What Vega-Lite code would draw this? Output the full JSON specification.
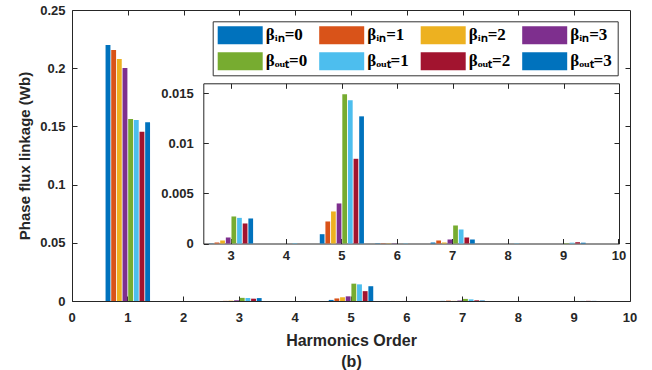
{
  "$schema": "https://vega.github.io/schema/vega-lite/v6.json",
  "width": 558,
  "height": 291,
  "autosize": "none",
  "padding": {"left": 72, "top": 10, "right": 22, "bottom": 69},
  "background": "white",
  "config": {
    "view": {"stroke": "#262626", "strokeWidth": 1},
    "axis": {
      "grid": false,
      "domain": false,
      "domainColor": "#262626",
      "domainWidth": 1,
      "tickColor": "#262626",
      "tickSize": -5,
      "tickWidth": 1,
      "labelFont": "Liberation Sans",
      "labelFontWeight": "bold",
      "labelFontSize": 13,
      "labelColor": "#262626",
      "labelAngle": 0,
      "titleFont": "Liberation Sans",
      "titleFontWeight": "bold",
      "titleFontSize": 16,
      "titleColor": "#262626"
    }
  },
  "datasets": {
    "flux": [
      {"h": 1, "s": "\u03b2\u1d62\u2099=0", "v": 0.2199},
      {"h": 1, "s": "\u03b2\u1d62\u2099=1", "v": 0.2156},
      {"h": 1, "s": "\u03b2\u1d62\u2099=2", "v": 0.2080},
      {"h": 1, "s": "\u03b2\u1d62\u2099=3", "v": 0.2002},
      {"h": 1, "s": "\u03b2\u2092\u1d64\u209c=0", "v": 0.1564},
      {"h": 1, "s": "\u03b2\u2092\u1d64\u209c=1", "v": 0.1555},
      {"h": 1, "s": "\u03b2\u2092\u1d64\u209c=2", "v": 0.1455},
      {"h": 1, "s": "\u03b2\u2092\u1d64\u209c=3", "v": 0.1535},
      {"h": 3, "s": "\u03b2\u1d62\u2099=0", "v": 0.00002},
      {"h": 3, "s": "\u03b2\u1d62\u2099=1", "v": 0.0001},
      {"h": 3, "s": "\u03b2\u1d62\u2099=2", "v": 0.0003},
      {"h": 3, "s": "\u03b2\u1d62\u2099=3", "v": 0.0006},
      {"h": 3, "s": "\u03b2\u2092\u1d64\u209c=0", "v": 0.0027},
      {"h": 3, "s": "\u03b2\u2092\u1d64\u209c=1", "v": 0.00256},
      {"h": 3, "s": "\u03b2\u2092\u1d64\u209c=2", "v": 0.0020},
      {"h": 3, "s": "\u03b2\u2092\u1d64\u209c=3", "v": 0.0025},
      {"h": 4, "s": "\u03b2\u2092\u1d64\u209c=1", "v": 0.00004},
      {"h": 5, "s": "\u03b2\u1d62\u2099=0", "v": 0.00093},
      {"h": 5, "s": "\u03b2\u1d62\u2099=1", "v": 0.0022},
      {"h": 5, "s": "\u03b2\u1d62\u2099=2", "v": 0.0032},
      {"h": 5, "s": "\u03b2\u1d62\u2099=3", "v": 0.0040},
      {"h": 5, "s": "\u03b2\u2092\u1d64\u209c=0", "v": 0.0149},
      {"h": 5, "s": "\u03b2\u2092\u1d64\u209c=1", "v": 0.0143},
      {"h": 5, "s": "\u03b2\u2092\u1d64\u209c=2", "v": 0.00846},
      {"h": 5, "s": "\u03b2\u2092\u1d64\u209c=3", "v": 0.0127},
      {"h": 6, "s": "\u03b2\u1d62\u2099=0", "v": 0.00003},
      {"h": 6, "s": "\u03b2\u1d62\u2099=1", "v": 0.00003},
      {"h": 6, "s": "\u03b2\u1d62\u2099=2", "v": 0.00003},
      {"h": 6, "s": "\u03b2\u1d62\u2099=3", "v": 0.00003},
      {"h": 6, "s": "\u03b2\u2092\u1d64\u209c=1", "v": 0.00003},
      {"h": 7, "s": "\u03b2\u1d62\u2099=0", "v": 0.0001},
      {"h": 7, "s": "\u03b2\u1d62\u2099=1", "v": 0.0003},
      {"h": 7, "s": "\u03b2\u1d62\u2099=2", "v": 0.0001},
      {"h": 7, "s": "\u03b2\u1d62\u2099=3", "v": 0.0004},
      {"h": 7, "s": "\u03b2\u2092\u1d64\u209c=0", "v": 0.0018},
      {"h": 7, "s": "\u03b2\u2092\u1d64\u209c=1", "v": 0.0014},
      {"h": 7, "s": "\u03b2\u2092\u1d64\u209c=2", "v": 0.0006},
      {"h": 7, "s": "\u03b2\u2092\u1d64\u209c=3", "v": 0.0004},
      {"h": 8, "s": "\u03b2\u2092\u1d64\u209c=1", "v": 0.00003},
      {"h": 9, "s": "\u03b2\u2092\u1d64\u209c=0", "v": 0.00004},
      {"h": 9, "s": "\u03b2\u2092\u1d64\u209c=1", "v": 0.00008},
      {"h": 9, "s": "\u03b2\u2092\u1d64\u209c=2", "v": 0.00013},
      {"h": 9, "s": "\u03b2\u2092\u1d64\u209c=3", "v": 0.00008}
    ]
  },
  "data": {"name": "flux"},
  "layer": [
    {
      "mark": {"type": "bar"},
      "encoding": {
        "x": {
          "field": "h", "type": "ordinal",
          "scale": {"domain": [0, 1, 2, 3, 4, 5, 6, 7, 8, 9, 10], "range": [-27.9, 585.9], "paddingInner": 0, "paddingOuter": 0},
          "axis": {"orient": "bottom", "labelPadding": 15, "title": ["Harmonics Order", "(b)"], "titlePadding": 8, "titleLineHeight": 21}
        },
        "xOffset": {
          "field": "s", "type": "nominal",
          "scale": {"paddingInner": 0.14, "paddingOuter": 1.07,
            "domain": ["\u03b2\u1d62\u2099=0", "\u03b2\u1d62\u2099=1", "\u03b2\u1d62\u2099=2", "\u03b2\u1d62\u2099=3", "\u03b2\u2092\u1d64\u209c=0", "\u03b2\u2092\u1d64\u209c=1", "\u03b2\u2092\u1d64\u209c=2", "\u03b2\u2092\u1d64\u209c=3"]}
        },
        "y": {
          "field": "v", "type": "quantitative", "stack": null,
          "scale": {"domain": [0, 0.25], "nice": false},
          "axis": {"orient": "left", "labelPadding": 12, "values": [0, 0.05, 0.1, 0.15, 0.2, 0.25], "format": "~g", "title": "Phase flux linkage (Wb)", "titleFontSize": 15, "titlePadding": 7}
        },
        "color": {
          "field": "s", "type": "nominal",
          "scale": {
            "domain": ["\u03b2\u1d62\u2099=0", "\u03b2\u1d62\u2099=1", "\u03b2\u1d62\u2099=2", "\u03b2\u1d62\u2099=3", "\u03b2\u2092\u1d64\u209c=0", "\u03b2\u2092\u1d64\u209c=1", "\u03b2\u2092\u1d64\u209c=2", "\u03b2\u2092\u1d64\u209c=3"],
            "range": ["#0072BD", "#D95319", "#EDB120", "#7E2F8E", "#77AC30", "#4DBEEE", "#A2142F", "#0072BD"]
          },
          "legend": {
            "title": null, "orient": "none", "legendX": 140.7, "legendY": 11.3,
            "direction": "horizontal", "columns": 4, "gridAlign": "all",
            "symbolType": "M-2.5,-1H2.5V1H-2.5Z", "symbolSize": 324, "symbolOffset": 13.5, "symbolStrokeWidth": 0, "symbolOpacity": 1,
            "labelFont": "Liberation Serif", "labelFontSize": 17, "labelFontWeight": "bold", "labelColor": "black",
            "labelOffset": 16.5, "columnPadding": 11.5, "rowPadding": 8, "padding": 5,
            "strokeColor": "#333333", "fillColor": "white"
          }
        }
      }
    },
    {
      "mark": {"type": "point", "opacity": 0},
      "encoding": {
        "x": {
          "field": "h", "type": "quantitative",
          "scale": {"domain": [0, 10], "nice": false, "zero": false},
          "axis": {"orient": "top", "values": [1, 2, 3, 4, 5, 6, 7, 8, 9], "labels": false, "title": null}
        },
        "y": {
          "field": "v", "type": "quantitative",
          "scale": {"domain": [0, 0.25], "nice": false},
          "axis": {"orient": "right", "values": [0.05, 0.1, 0.15, 0.2], "labels": false, "title": null}
        }
      }
    },
    {
      "transform": [{"filter": "datum.h > 2"}],
      "mark": {"type": "bar"},
      "encoding": {
        "x": {
          "field": "h", "type": "ordinal",
          "scale": {"domain": [3, 4, 5, 6, 7, 8, 9, 10], "range": [131.3, 574.7], "paddingInner": 0, "paddingOuter": 0},
          "axis": {"orient": "bottom", "offset": -57.5, "labelPadding": 11, "title": null}
        },
        "xOffset": {
          "field": "s", "type": "nominal",
          "scale": {"paddingInner": 0.16, "paddingOuter": 1.07,
            "domain": ["\u03b2\u1d62\u2099=0", "\u03b2\u1d62\u2099=1", "\u03b2\u1d62\u2099=2", "\u03b2\u1d62\u2099=3", "\u03b2\u2092\u1d64\u209c=0", "\u03b2\u2092\u1d64\u209c=1", "\u03b2\u2092\u1d64\u209c=2", "\u03b2\u2092\u1d64\u209c=3"]}
        },
        "y": {
          "field": "v", "type": "quantitative", "stack": null,
          "scale": {"domain": [0, 0.016], "range": [233.5, 73.3], "nice": false},
          "axis": {"orient": "left", "offset": -131.3, "domain": true, "labelPadding": 15, "values": [0, 0.005, 0.01, 0.015], "format": "~g", "title": null}
        },
        "color": {
          "field": "s", "type": "nominal",
          "scale": {
            "domain": ["\u03b2\u1d62\u2099=0", "\u03b2\u1d62\u2099=1", "\u03b2\u1d62\u2099=2", "\u03b2\u1d62\u2099=3", "\u03b2\u2092\u1d64\u209c=0", "\u03b2\u2092\u1d64\u209c=1", "\u03b2\u2092\u1d64\u209c=2", "\u03b2\u2092\u1d64\u209c=3"],
            "range": ["#0072BD", "#D95319", "#EDB120", "#7E2F8E", "#77AC30", "#4DBEEE", "#A2142F", "#0072BD"]
          },
          "legend": {
            "title": null, "orient": "none", "legendX": 140.7, "legendY": 11.3,
            "direction": "horizontal", "columns": 4, "gridAlign": "all",
            "symbolType": "M-2.5,-1H2.5V1H-2.5Z", "symbolSize": 324, "symbolOffset": 13.5, "symbolStrokeWidth": 0, "symbolOpacity": 1,
            "labelFont": "Liberation Serif", "labelFontSize": 17, "labelFontWeight": "bold", "labelColor": "black",
            "labelOffset": 16.5, "columnPadding": 11.5, "rowPadding": 8, "padding": 5,
            "strokeColor": "#333333", "fillColor": "white"
          }
        }
      }
    },
    {
      "transform": [{"filter": "datum.h > 2"}],
      "mark": {"type": "point", "opacity": 0},
      "encoding": {
        "x": {
          "field": "h", "type": "quantitative",
          "scale": {"domain": [2.5, 10], "range": [131.3, 547], "nice": false, "zero": false},
          "axis": {"orient": "top", "offset": -73.3, "domain": true, "values": [3, 4, 5, 6, 7, 8, 9], "labels": false, "title": null}
        },
        "y": {
          "field": "v", "type": "quantitative",
          "scale": {"domain": [0, 0.016], "range": [233.5, 73.3], "nice": false},
          "axis": {"orient": "right", "offset": -11, "domain": true, "values": [0.005, 0.01, 0.015], "labels": false, "title": null}
        }
      }
    },
    {
      "transform": [{"filter": "datum.h > 2"}],
      "mark": {"type": "point", "opacity": 0},
      "encoding": {
        "x": {
          "field": "h", "type": "quantitative",
          "scale": {"domain": [2.5, 10], "range": [131.3, 547], "nice": false, "zero": false},
          "axis": {"orient": "bottom", "offset": -57.5, "domain": true, "ticks": false, "labels": false, "title": null}
        }
      }
    }
  ],
  "resolve": {
    "scale": {"x": "independent", "y": "independent", "xOffset": "independent"},
    "axis": {"x": "independent", "y": "independent"}
  }
}
